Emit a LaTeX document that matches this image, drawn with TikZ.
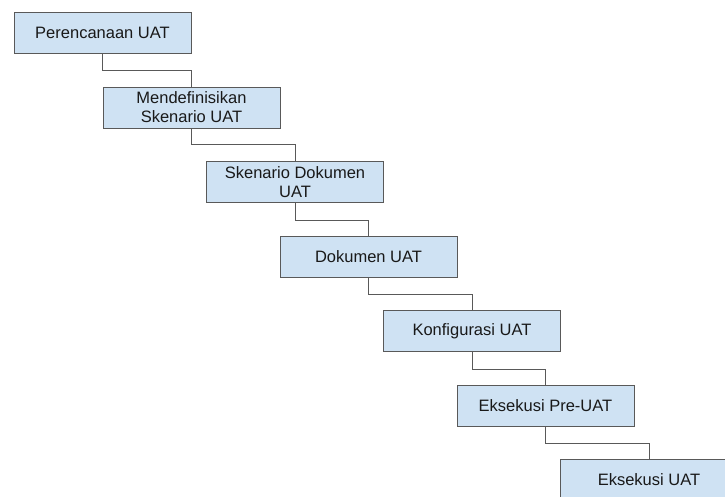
\documentclass[tikz,border=0pt]{standalone}
\usepackage{fontspec}
\setmainfont{Liberation Sans}
\definecolor{boxfill}{HTML}{CFE2F3}
\definecolor{boxline}{HTML}{595959}
\begin{document}
\begin{tikzpicture}[x=1pt,y=-1pt,
  stepbox/.style={draw=boxline, fill=boxfill, line width=0.9pt, minimum width=177pt, minimum height=41pt, inner sep=0pt, align=center, font=\fontsize{16.5}{19}\selectfont, text=black!90},
  link/.style={draw=boxline, line width=0.9pt}]
\useasboundingbox (0,0) rectangle (725,497);
\clip (0,0) rectangle (725,497);
\fill[white] (0,0) rectangle (725,497);
\node[stepbox] (a) at (102.5,32.5) {Perencanaan UAT};
\node[stepbox] (b) at (191.5,107.5) {Mendefinisikan\\Skenario UAT};
\node[stepbox] (c) at (295,182) {Skenario Dokumen\\UAT};
\node[stepbox] (d) at (368.5,257) {Dokumen UAT};
\node[stepbox] (e) at (472,331) {Konfigurasi UAT};
\node[stepbox] (f) at (545.5,406) {Eksekusi Pre-UAT};
\node[stepbox] (g) at (649,480) {Eksekusi UAT};
\draw[link] (a.south) -- ++(0,17) -| (b.north);
\draw[link] (b.south) -- ++(0,16.5) -| (c.north);
\draw[link] (c.south) -- ++(0,17) -| (d.north);
\draw[link] (d.south) -- ++(0,16) -| (e.north);
\draw[link] (e.south) -- ++(0,17) -| (f.north);
\draw[link] (f.south) -- ++(0,16.5) -| (g.north);
\end{tikzpicture}
\end{document}
